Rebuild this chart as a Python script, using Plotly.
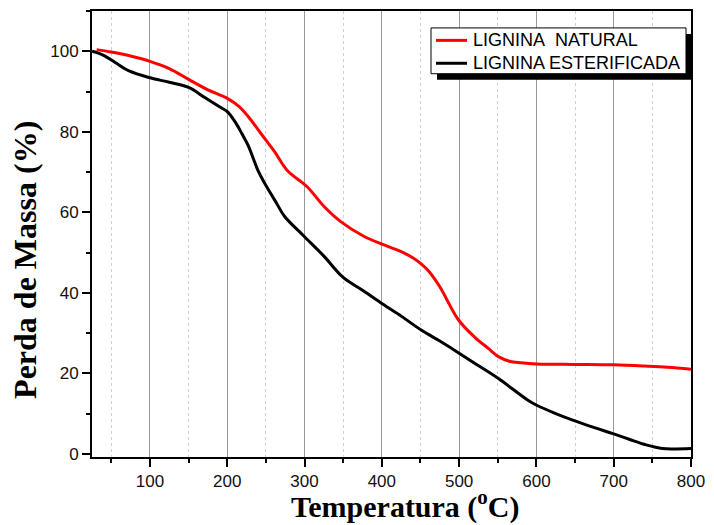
import plotly.graph_objects as go

natural_x = [31, 50, 75, 100, 125, 150, 175, 200, 215, 227, 245, 261, 278, 303, 325, 346, 376, 401, 425, 440, 452, 461, 475, 499, 520, 537, 552, 565, 580, 600, 650, 700, 740, 770, 800]
natural_y = [100.4, 99.8, 98.8, 97.5, 95.7, 93.0, 90.4, 88.3, 86.3, 83.8, 79.2, 75.1, 70.3, 66.4, 61.5, 57.8, 54.1, 52.0, 50.2, 48.7, 47.0, 45.3, 41.5, 33.3, 29.0, 26.3, 24.0, 23.0, 22.6, 22.3, 22.2, 22.1, 21.8, 21.5, 21.0]

ester_x = [25, 40, 55, 73, 100, 125, 150, 171, 190, 200, 210, 219, 227, 240, 252, 264, 274, 299, 325, 350, 376, 401, 425, 452, 475, 495, 520, 550, 589, 601, 625, 648, 675, 699, 720, 742, 763, 780, 800]
ester_y = [100.0, 99.0, 97.2, 95.1, 93.4, 92.3, 91.0, 88.5, 86.2, 85.0, 82.5, 79.5, 76.6, 70.3, 66.0, 62.2, 59.0, 54.1, 49.1, 43.8, 40.5, 37.2, 34.2, 30.6, 28.0, 25.6, 22.5, 18.8, 13.3, 12.0, 10.0, 8.3, 6.5, 5.0, 3.6, 2.2, 1.3, 1.2, 1.3]

series_names = ["LIGNINA\u00a0 NATURAL", "LIGNINA ESTERIFICADA"]
series_colors = ["#ff0000", "#000000"]

fig = go.Figure()
fig.add_trace(go.Scatter(x=natural_x, y=natural_y, mode="lines", name=series_names[0],
                         line=dict(color=series_colors[0], width=3, shape="spline", smoothing=1.0)))
fig.add_trace(go.Scatter(x=ester_x, y=ester_y, mode="lines", name=series_names[1],
                         line=dict(color=series_colors[1], width=3, shape="spline", smoothing=1.0)))

tickfont = dict(family="Liberation Sans, Arial", size=17, color="#111")
fig.update_xaxes(range=[25, 800], tick0=0, dtick=100, ticks="outside", ticklen=8, tickwidth=1.5,
                 tickcolor="black", showline=True, linecolor="black", linewidth=2, mirror=True,
                 showgrid=True, gridcolor="#999999", gridwidth=1, zeroline=False, tickfont=tickfont,
                 minor=dict(dtick=50, tick0=0, ticks="outside", ticklen=4, tickcolor="black",
                            showgrid=True, gridcolor="#d0d0d0", griddash="dot", gridwidth=1))
fig.update_yaxes(range=[-0.8, 110], tick0=0, dtick=20, ticks="outside", ticklen=8, tickwidth=1.5,
                 tickcolor="black", showline=True, linecolor="black", linewidth=2, mirror=True,
                 showgrid=False, zeroline=False, tickfont=tickfont,
                 minor=dict(dtick=10, tick0=0, ticks="outside", ticklen=4, tickcolor="black"))

# rendered plot area in window px: x 92..691, y 9..457
W0, H0, L0, T0 = 599.0, 448.0, 92.0, 9.0
px = lambda v: (v - L0) / W0
py = lambda v: 1 - (v - T0) / H0

# axis titles
fig.add_annotation(text="<b>Temperatura (<sup>o</sup>C)</b>", xref="paper", yref="paper",
                   x=px(405), y=py(505), xanchor="center", yanchor="middle", showarrow=False,
                   font=dict(family="Liberation Serif, Times New Roman", size=30, color="black"))
fig.add_annotation(text="<b>Perda de Massa (%)</b>", xref="paper", yref="paper",
                   x=px(25), y=py(259), xanchor="center", yanchor="middle", showarrow=False,
                   textangle=-90, font=dict(family="Liberation Serif, Times New Roman", size=32, color="black"))

# legend box with drop shadow
fig.add_shape(type="rect", xref="paper", yref="paper", x0=px(437), x1=px(692), y0=py(78), y1=py(32),
              fillcolor="black", line=dict(width=0), layer="above")
fig.add_shape(type="rect", xref="paper", yref="paper", x0=px(431), x1=px(686), y0=py(72), y1=py(26),
              fillcolor="white", line=dict(color="black", width=1), layer="above")
for i, (nm, col) in enumerate(zip(series_names, series_colors)):
    yy = 38.5 + 23 * i
    fig.add_shape(type="line", xref="paper", yref="paper", x0=px(436), x1=px(467), y0=py(yy), y1=py(yy),
                  line=dict(color=col, width=3), layer="above")
    fig.add_annotation(text=nm, xref="paper", yref="paper", x=px(471), y=py(yy), xanchor="left",
                       yanchor="middle", showarrow=False,
                       font=dict(family="Liberation Sans, Arial", size=18, color="black"))

fig.update_layout(
    width=714, height=525,
    margin=dict(l=92, r=15, t=9, b=68),
    plot_bgcolor="white", paper_bgcolor="white",
    showlegend=False,
)
post = ("document.documentElement.style.overflow='hidden';"
        "document.body.style.overflow='hidden';"
        "document.body.style.margin='0';"
        "var gd=document.getElementById('{plot_id}');"
        "gd.style.width='714px';gd.style.height='525px';"
        "Plotly.relayout(gd,{width:714,height:525});")
fig.write_html("out.html", config={"responsive": False, "displayModeBar": False}, post_script=post)
